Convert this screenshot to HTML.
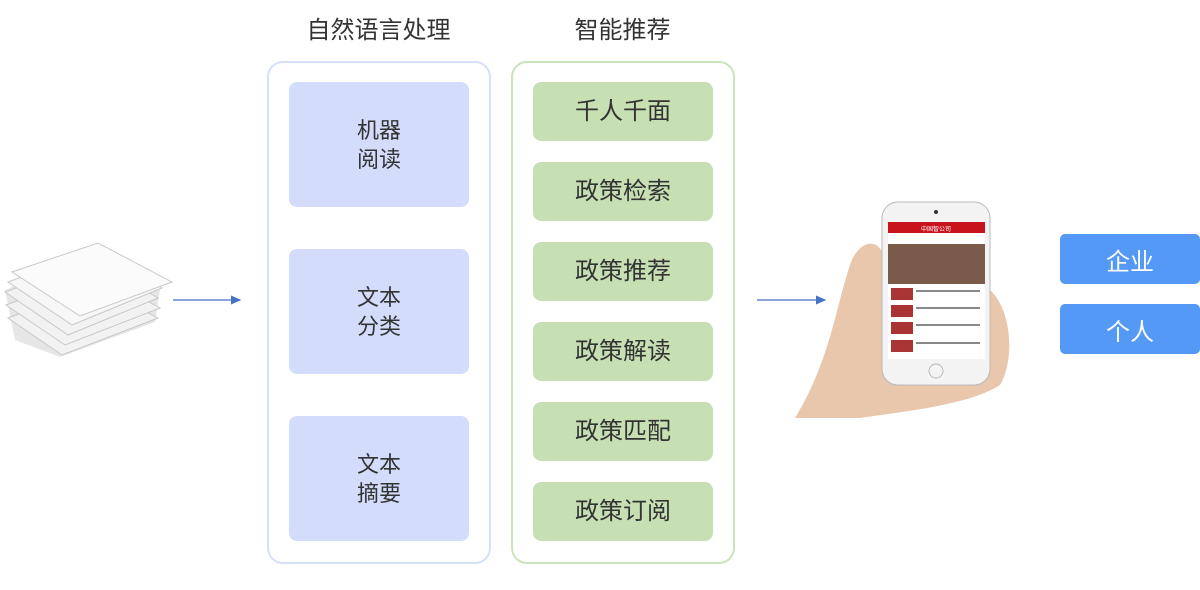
<!DOCTYPE html>
<html><head><meta charset="utf-8"><style>
body{margin:0;width:1200px;height:590px;background:#fff;position:relative;overflow:hidden;font-family:"Liberation Sans","Noto Sans CJK SC",sans-serif;color:#333}
.a{position:absolute}
.t{font-size:24px;text-align:center}
.panel{position:absolute;border-radius:16px;box-sizing:border-box}
.b{position:absolute;border-radius:8px;display:flex;align-items:center;justify-content:center;text-align:center;font-size:24px;line-height:29px}
.blue{background:#d3ddfb;left:289px;width:180px;height:125px;font-size:22px}
.green{background:#c6e0b4;left:533px;width:180px;height:59px}
.btn{position:absolute;left:1060px;width:140px;height:50px;background:#5399f5;color:#fff;border-radius:5px;display:flex;align-items:center;justify-content:center;font-size:24px}
</style></head><body>
<div class="a t" style="left:267px;width:223px;top:10px">自然语言处理</div>
<div class="a t" style="left:511px;width:223px;top:10px">智能推荐</div>
<div class="panel" style="left:267px;top:61px;width:224px;height:503px;border:2px solid #d6e0fa"></div>
<div class="panel" style="left:511px;top:61px;width:224px;height:503px;border:2px solid #cbe3bb"></div>
<div class="b blue" style="top:82px">机器<br>阅读</div>
<div class="b blue" style="top:249px">文本<br>分类</div>
<div class="b blue" style="top:416px">文本<br>摘要</div>
<div class="b green" style="top:82px">千人千面</div>
<div class="b green" style="top:162px">政策检索</div>
<div class="b green" style="top:242px">政策推荐</div>
<div class="b green" style="top:322px">政策解读</div>
<div class="b green" style="top:402px">政策匹配</div>
<div class="b green" style="top:482px">政策订阅</div>
<div class="btn" style="top:234px">企业</div>
<div class="btn" style="top:304px">个人</div>
<svg class="a" style="left:0;top:0" width="1200" height="590">
<defs><marker id="m" markerWidth="8" markerHeight="8" refX="7" refY="4" orient="auto"><path d="M0,0.5L8,4L0,7.5z" fill="#4472c4"/></marker></defs>
<line x1="173" y1="300" x2="240" y2="300" stroke="#4472c4" stroke-width="1.3" marker-end="url(#m)"/>
<line x1="757" y1="300" x2="825" y2="300" stroke="#4472c4" stroke-width="1.3" marker-end="url(#m)"/>
<path d="M5,290 L15,340 L60,357 L155,322 L160,290 L95,250Z" fill="#e6e6e6"/>
<g fill="#f2f2f2" stroke="#c8c8c8" stroke-width="1">
<path d="M8,318 L95,285 L158,318 L62,355Z"/>
<path d="M6,305 L95,272 L160,308 L65,345Z"/>
<path d="M5,292 L95,260 L158,298 L68,335Z"/>
<path d="M8,282 L95,250 L162,288 L72,325Z" fill="#f7f7f7"/>
<path d="M12,272 L98,243 L172,282 L80,316Z" fill="#fbfbfb"/>
</g>
<path d="M795,418 C830,360 835,310 850,265 C858,240 880,235 885,260 L990,290 C1012,310 1015,360 1000,385 C970,405 900,412 860,418Z" fill="#e9c7ad"/>
<rect x="882" y="202" width="108" height="183" rx="16" fill="#f3f3f3" stroke="#b9b9b9"/>
<rect x="888" y="222" width="97" height="137" fill="#fff"/>
<rect x="888" y="222" width="97" height="11" fill="#c8121c"/>
<text x="936" y="231" font-size="6" fill="#fff" text-anchor="middle">中国智公司</text>
<rect x="888" y="244" width="97" height="40" fill="#7a5a48"/>
<g fill="#a33"><rect x="891" y="288" width="22" height="12"/><rect x="891" y="305" width="22" height="12"/><rect x="891" y="322" width="22" height="12"/><rect x="891" y="340" width="22" height="12"/></g>
<g fill="#888"><rect x="916" y="290" width="64" height="2"/><rect x="916" y="307" width="64" height="2"/><rect x="916" y="324" width="64" height="2"/><rect x="916" y="342" width="64" height="2"/></g>
<circle cx="936" cy="371" r="7" fill="none" stroke="#bbb"/>
<circle cx="936" cy="212" r="2" fill="#333"/>
</svg>
</body></html>
